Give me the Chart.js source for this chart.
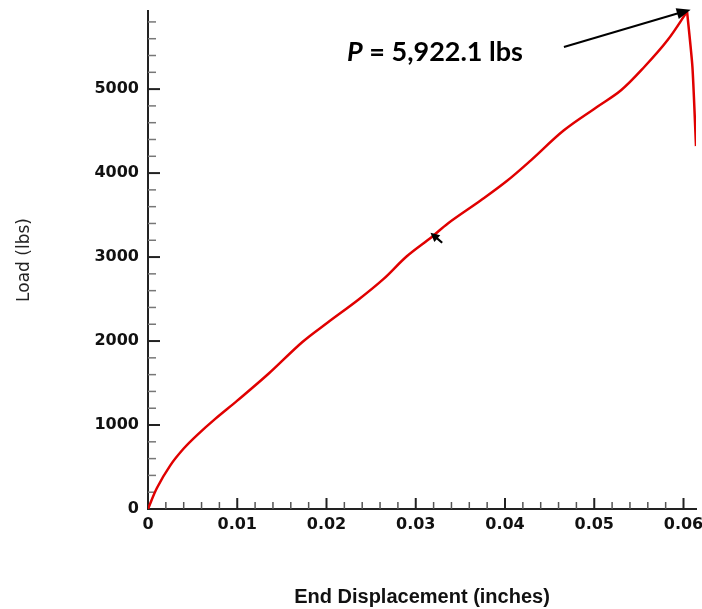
<!DOCTYPE html>
<html><head><meta charset="utf-8">
<script src="https://cdn.jsdelivr.net/npm/chart.js@4/dist/chart.umd.min.js"></script>
<style>html,body{margin:0;padding:0;background:#fff;}canvas{display:block;}</style>
</head><body>
<canvas id="c" width="702" height="609"></canvas>
<script>
// ---- data ----
const displacement = [0, 0.0010, 0.0025, 0.0040, 0.0055, 0.0075, 0.0100, 0.0135, 0.0173, 0.0201, 0.0236, 0.0264, 0.0290, 0.0318, 0.0336, 0.0373, 0.0402, 0.0429, 0.0466, 0.0503, 0.0530, 0.0556, 0.0582, 0.0604, 0.0610, 0.0614];
const load =         [0, 250,    520,    720,    880,    1070,   1290,   1610,   1989,   2218,   2495,   2740,   3010,   3240,   3400,   3676,   3905,   4152,   4510,   4787,   4986,   5263,   5581,   5922.1, 5263,   4321];
const peakIndex = 23;
const xTickValues = [0, 0.01, 0.02, 0.03, 0.04, 0.05, 0.06];
const xTickLabels = ['0', '0.01', '0.02', '0.03', '0.04', '0.05', '0.06'];
const yTickValues = [0, 1000, 2000, 3000, 4000, 5000];
const yTickLabels = ['0', '1000', '2000', '3000', '4000', '5000'];
const xMinorStep = 0.002;
const yMinorStep = 200;
const xTitle = 'End Displacement (inches)';
const yTitle = 'Load (lbs)';
const peakSymbol = 'P';
const peakText = ' = 5,922.1 lbs';
const peakTextAnchor = {x: 0.0223, y: 5331};
const peakArrowFrom = {x: 0.0466, y: 5501};
const peakArrowTo = {x: 0.0608, y: 5946};
const smallArrowFrom = {x: 0.03296, y: 3170};
const smallArrowTo = {x: 0.03165, y: 3290};

function drawArrow(ctx, x1, y1, x2, y2, headLen, headW, lw) {
  const ang = Math.atan2(y2 - y1, x2 - x1);
  ctx.lineWidth = lw;
  ctx.beginPath();
  ctx.moveTo(x1, y1);
  ctx.lineTo(x2 - Math.cos(ang) * headLen * 0.8, y2 - Math.sin(ang) * headLen * 0.8);
  ctx.stroke();
  const bx = x2 - headLen * Math.cos(ang), by = y2 - headLen * Math.sin(ang);
  ctx.beginPath();
  ctx.moveTo(x2, y2);
  ctx.lineTo(bx + headW / 2 * Math.sin(ang), by - headW / 2 * Math.cos(ang));
  ctx.lineTo(bx - headW / 2 * Math.sin(ang), by + headW / 2 * Math.cos(ang));
  ctx.closePath();
  ctx.fill();
}

const decor = {
  id: 'decor',
  beforeDatasetsDraw(chart) {
    const {ctx, scales: {x, y}, chartArea: a} = chart;
    ctx.save();
    const nx = Math.floor(x.max / xMinorStep + 1e-9);
    for (let i = 1; i <= nx; i++) {
      const px = x.getPixelForValue(i * xMinorStep);
      const major = i % 5 === 0;
      ctx.strokeStyle = major ? '#222' : '#555';
      ctx.lineWidth = major ? 2 : 1.5;
      ctx.beginPath();
      ctx.moveTo(px, a.bottom);
      ctx.lineTo(px, a.bottom - (major ? 11 : 7));
      ctx.stroke();
    }
    const ny = Math.floor(y.max / yMinorStep + 1e-9);
    for (let i = 1; i <= ny; i++) {
      const py = y.getPixelForValue(i * yMinorStep);
      const major = i % 5 === 0;
      ctx.strokeStyle = major ? '#222' : '#777';
      ctx.lineWidth = major ? 2 : 1.5;
      ctx.beginPath();
      ctx.moveTo(a.left, py);
      ctx.lineTo(a.left + (major ? 12 : 8), py);
      ctx.stroke();
    }
    ctx.restore();
  },
  afterDraw(chart) {
    const {ctx, scales: {x, y}} = chart;
    ctx.save();
    ctx.strokeStyle = '#000';
    ctx.fillStyle = '#000';
    drawArrow(ctx, x.getPixelForValue(peakArrowFrom.x), y.getPixelForValue(peakArrowFrom.y),
      x.getPixelForValue(peakArrowTo.x), y.getPixelForValue(peakArrowTo.y), 14, 11, 2);
    drawArrow(ctx, x.getPixelForValue(smallArrowFrom.x), y.getPixelForValue(smallArrowFrom.y),
      x.getPixelForValue(smallArrowTo.x), y.getPixelForValue(smallArrowTo.y), 9, 9, 2.2);
    const tx = x.getPixelForValue(peakTextAnchor.x), ty = y.getPixelForValue(peakTextAnchor.y);
    ctx.textBaseline = 'alphabetic';
    ctx.textAlign = 'left';
    ctx.font = 'italic bold 27px Lato';
    ctx.fillText(peakSymbol, tx, ty);
    const w = ctx.measureText(peakSymbol).width;
    ctx.font = 'bold 27px Lato';
    ctx.fillText(peakText, tx + w, ty);
    ctx.restore();
  }
};

const pts = displacement.map((d, i) => ({x: d, y: load[i]}));

new Chart(document.getElementById('c'), {
  type: 'line',
  data: {
    datasets: [{
      data: pts.slice(0, peakIndex + 1),
      borderColor: '#e00000',
      borderWidth: 2.5,
      pointRadius: 0,
      tension: 0.35,
      fill: false
    }, {
      data: pts.slice(peakIndex),
      borderColor: '#e00000',
      borderWidth: 2.5,
      pointRadius: 0,
      tension: 0.2,
      fill: false
    }]
  },
  options: {
    responsive: false,
    animation: false,
    layout: {padding: {top: 11, right: 6, left: 0, bottom: 0}},
    plugins: {legend: {display: false}, tooltip: {enabled: false}},
    scales: {
      x: {
        type: 'linear', min: 0, max: 0.0614,
        afterBuildTicks: s => { s.ticks = xTickValues.map(v => ({value: v})); },
        afterFit: s => { s.height = 100; s.paddingLeft = 0; s.paddingRight = 0; },
        grid: {display: false, drawTicks: false},
        border: {display: true, color: '#222', width: 2},
        ticks: {
          autoSkip: false, maxRotation: 0, padding: 6, color: '#111',
          font: {family: 'DejaVu Sans', size: 16, weight: 'bold'},
          callback: (v, i) => xTickLabels[i]
        },
        title: {display: true, text: xTitle, color: '#111',
          font: {family: 'Liberation Sans', size: 20, weight: 'bold'}, padding: {top: 0, bottom: 0}}
      },
      y: {
        type: 'linear', min: 0, max: 5930,
        afterBuildTicks: s => { s.ticks = yTickValues.map(v => ({value: v})); },
        afterFit: s => { s.width = 148; s.paddingTop = 0; s.paddingBottom = 0; },
        grid: {display: false, drawTicks: false},
        border: {display: true, color: '#222', width: 2},
        ticks: {
          autoSkip: false, padding: 9, color: '#111',
          font: {family: 'DejaVu Sans', size: 16, weight: 'bold'},
          callback: (v, i) => yTickLabels[i]
        },
        title: {display: true, text: yTitle, color: '#222',
          font: {family: 'DejaVu Sans', size: 17}, padding: {top: 14, bottom: 0}}
      }
    }
  },
  plugins: [decor]
});
</script>
</body></html>
